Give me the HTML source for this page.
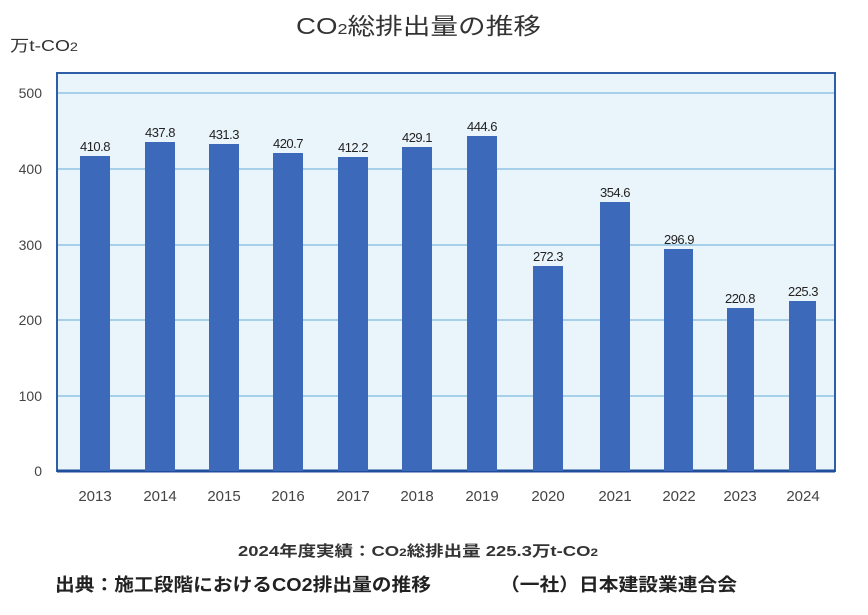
<!DOCTYPE html>
<html><head><meta charset="utf-8"><style>
html,body{margin:0;padding:0;background:#fff;}
svg{display:block;font-family:"Liberation Sans","Noto Sans CJK JP",sans-serif;}
</style></head><body>
<svg width="868" height="615" viewBox="0 0 868 615" xmlns="http://www.w3.org/2000/svg">
<text x="296" y="34" font-size="23" fill="#333" textLength="245" lengthAdjust="spacingAndGlyphs">CO<tspan font-size="15">2</tspan>総排出量の推移</text>
<text x="10" y="51" font-size="16" fill="#333" textLength="68" lengthAdjust="spacingAndGlyphs">万t-CO<tspan font-size="12">2</tspan></text>
<rect x="57" y="73" width="778" height="398" fill="#eaf5fb" stroke="#2f5da8" stroke-width="2"/>
<g stroke="#8fc3e3" stroke-width="1.5">
<line x1="58" x2="834" y1="93" y2="93"/>
<line x1="58" x2="834" y1="169" y2="169"/>
<line x1="58" x2="834" y1="245" y2="245"/>
<line x1="58" x2="834" y1="320" y2="320"/>
<line x1="58" x2="834" y1="396" y2="396"/>
</g>
<line x1="57" x2="835" y1="471" y2="471" stroke="#1f4e9a" stroke-width="3"/>
<g font-size="14" fill="#444" text-anchor="end">
<text x="42" y="98">500</text><text x="42" y="174">400</text><text x="42" y="250">300</text>
<text x="42" y="325">200</text><text x="42" y="401">100</text><text x="42" y="476">0</text>
</g>
<g fill="#3d69ba">
<rect x="80" y="156" width="30" height="315"/>
<rect x="145" y="142" width="30" height="329"/>
<rect x="209" y="144" width="30" height="327"/>
<rect x="273" y="153" width="30" height="318"/>
<rect x="338" y="157" width="30" height="314"/>
<rect x="402" y="147" width="30" height="324"/>
<rect x="467" y="136" width="30" height="335"/>
<rect x="533" y="266" width="30" height="205"/>
<rect x="600" y="202" width="30" height="269"/>
<rect x="664" y="249" width="29" height="222"/>
<rect x="727" y="308" width="27" height="163"/>
<rect x="789" y="301" width="27" height="170"/>
</g>
<g font-size="13" fill="#222" text-anchor="middle" letter-spacing="-0.5">
<text x="95" y="151">410.8</text><text x="160" y="137">437.8</text><text x="224" y="139">431.3</text>
<text x="288" y="148">420.7</text><text x="353" y="152">412.2</text><text x="417" y="142">429.1</text>
<text x="482" y="131">444.6</text><text x="548" y="261">272.3</text><text x="615" y="197">354.6</text>
<text x="679" y="244">296.9</text><text x="740" y="303">220.8</text><text x="803" y="296">225.3</text>
</g>
<g font-size="15" fill="#444" text-anchor="middle">
<text x="95" y="501">2013</text><text x="160" y="501">2014</text><text x="224" y="501">2015</text>
<text x="288" y="501">2016</text><text x="353" y="501">2017</text><text x="417" y="501">2018</text>
<text x="482" y="501">2019</text><text x="548" y="501">2020</text><text x="615" y="501">2021</text>
<text x="679" y="501">2022</text><text x="740" y="501">2023</text><text x="803" y="501">2024</text>
</g>
<text x="238" y="556" font-size="15" font-weight="bold" fill="#333" textLength="360" lengthAdjust="spacingAndGlyphs">2024年度実績：CO<tspan font-size="11">2</tspan>総排出量 225.3万t-CO<tspan font-size="11">2</tspan></text>
<text x="55" y="591" font-size="18" font-weight="bold" fill="#222" textLength="376" lengthAdjust="spacingAndGlyphs">出典：施工段階におけるCO2排出量の推移</text>
<text x="500" y="591" font-size="18" font-weight="bold" fill="#222" textLength="237" lengthAdjust="spacingAndGlyphs">（一社）日本建設業連合会</text>
</svg>
</body></html>
